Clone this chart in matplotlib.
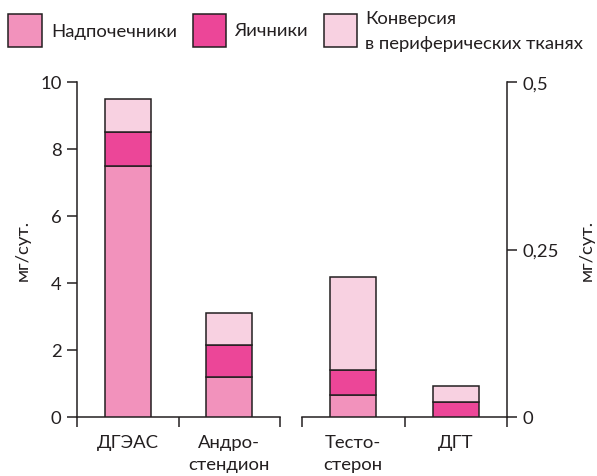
import matplotlib
matplotlib.use("Agg")
import matplotlib.pyplot as plt
from matplotlib.patches import Rectangle

# ---- data ----
series_names = ["Надпочечники", "Яичники", "Конверсия\nв периферических тканях"]
colors = ["#F292BC", "#EC4698", "#F8D1E1"]

left_cats = ["ДГЭАС", "Андро-\nстендион"]
left_adrenal = [7.5, 1.2]
left_ovary = [1.0, 0.95]
left_periph = [1.0, 0.95]

right_cats = ["Тесто-\nстерон", "ДГТ"]
right_adrenal = [0.033, 0.0]
right_ovary = [0.037, 0.0225]
right_periph = [0.139, 0.024]

left_yticks = [0, 2, 4, 6, 8, 10]
right_yticks = [0, 0.25, 0.5]
right_yticklabels = ["0", "0,25", "0,5"]
ylabel = "мг/сут."

W, H = 597, 477
plt.rcParams['font.family'] = ['Lato', 'DejaVu Sans']
fig = plt.figure(figsize=(W / 100, H / 100), dpi=100)

def px_axes(x0, y0, x1, y1):
    return fig.add_axes([x0 / W, 1 - y1 / H, (x1 - x0) / W, (y1 - y0) / H])

FS = 13.3
TC = "#231F20"
EC = "#231F20"
LW = 1.1
TL = 7.2
barw = 0.45

def draw_group(ax, cats, a, o, p):
    xs = [i + 0.5 for i in range(len(cats))]
    bottoms = [0] * len(cats)
    for vals, c in zip([a, o, p], colors):
        ax.bar(xs, vals, width=barw, bottom=bottoms, color=c, edgecolor=EC, linewidth=LW, zorder=3)
        bottoms = [b + v for b, v in zip(bottoms, vals)]
    ax.set_xlim(0, len(cats))
    ax.set_xticks([0, 1, 2])
    ax.set_xticklabels([])
    ax.set_xticks(xs, minor=True)
    ax.set_xticklabels(cats, minor=True, fontsize=FS, linespacing=1.5, color=TC)
    ax.tick_params(axis='x', which='minor', length=0, pad=12)
    ax.tick_params(axis='x', which='major', length=TL, width=LW, direction='out', color=EC)
    ax.spines['top'].set_visible(False)
    for s in ax.spines.values():
        s.set_linewidth(LW)
        s.set_color(EC)

axL = px_axes(77, 83, 280, 418)
draw_group(axL, left_cats, left_adrenal, left_ovary, left_periph)
axL.set_ylim(0, 10)
axL.set_yticks(left_yticks)
axL.set_yticklabels([str(t) for t in left_yticks], fontsize=FS, color=TC)
axL.tick_params(axis='y', length=TL, width=LW, color=EC, pad=4)
axL.spines['right'].set_visible(False)
axL.set_ylabel(ylabel, fontsize=FS, color=TC, labelpad=7)

axR = px_axes(302, 83, 507, 418)
draw_group(axR, right_cats, right_adrenal, right_ovary, right_periph)
axR.set_ylim(0, 0.5)
axR.set_yticks(right_yticks)
axR.set_yticklabels(right_yticklabels, fontsize=FS, color=TC)
axR.yaxis.tick_right()
axR.yaxis.set_label_position('right')
axR.tick_params(axis='y', length=TL, width=LW, color=EC, pad=4)
axR.spines['left'].set_visible(False)
axR.set_ylabel(ylabel, fontsize=FS, color=TC, labelpad=14)

# ---- legend ----
def leg_box(x0, y0, x1, y1, c):
    fig.add_artist(Rectangle((x0 / W, 1 - y1 / H), (x1 - x0) / W, (y1 - y0) / H,
                             transform=fig.transFigure, facecolor=c, edgecolor=EC, linewidth=LW))

boxes = [(8, 15, 42, 48), (193, 15, 226, 48), (324, 15, 357, 48)]
text_x = [51, 234, 365]
for (b, c, name, tx) in zip(boxes, colors, series_names, text_x):
    leg_box(*b, c)
    fig.text(tx / W, 1 - 31.5 / H, name, fontsize=FS, va='center', ha='left',
             color=TC, linespacing=1.75)

fig.savefig("out.png", dpi=100)
